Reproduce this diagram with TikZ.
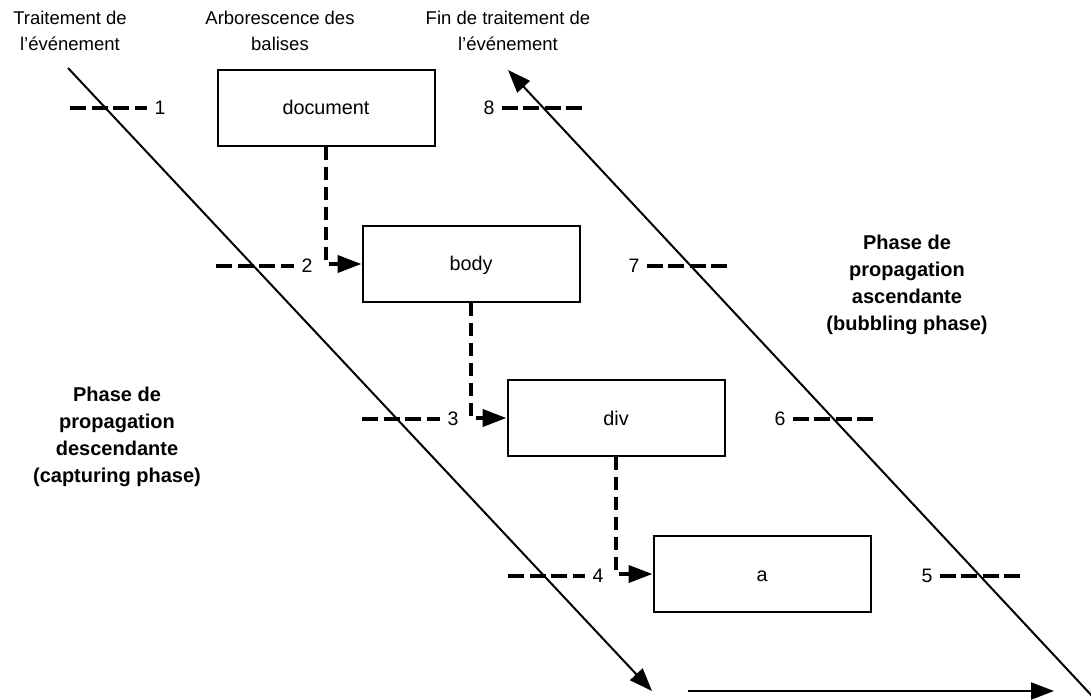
\documentclass[tikz,border=0pt]{standalone}
\usepackage{fontspec}
\setmainfont{Liberation Sans}
\usetikzlibrary{arrows.meta}
\begin{document}
\begin{tikzpicture}[x=1pt,y=-1pt,
  tag/.style={draw, line width=2pt, minimum width=217pt, minimum height=76pt,
    inner sep=0pt, text height=14pt, text depth=0pt,
    font=\fontsize{19.8}{22}\selectfont},
  lbl/.style={font=\fontsize{18.5}{26}\selectfont, align=center},
  phase/.style={font=\fontsize{20}{27}\selectfont\bfseries, align=center},
  num/.style={font=\fontsize{19.5}{22}\selectfont, inner sep=3pt},
  tick/.style={line width=4pt, dash pattern=on 16pt off 5.5pt},
  link/.style={line width=4pt, dash pattern=on 13pt off 7pt,
    -{Triangle[length=24pt,width=17pt]}},
  flow/.style={line width=2pt, -{Triangle[length=23pt,width=17pt]}}]

\useasboundingbox (0,0) rectangle (1091,700);

% column headings
\node[lbl] (hstart) at (70,31) {Traitement de\\l’événement};
\node[lbl] (htree) at (280,31) {Arborescence des\\balises};
\node[lbl] (hend) at (508,31) {Fin de traitement de\\l’événement};

% element tree
\node[tag] (doc) at (326,108) {document};
\node[tag] (body) at (471,264) {body};
\node[tag] (div) at (616,418) {div};
\node[tag] (a) at (762,574) {a};

\draw[link] (doc.south) |- (body.west);
\draw[link] (body.south) |- (div.west);
\draw[link] (div.south) |- (a.west);

% capture phase steps
\node[num] (n1) at (160,108) {1};
\node[num] (n2) at (307,266) {2};
\node[num] (n3) at (453,419) {3};
\node[num] (n4) at (598,576) {4};
\coordinate (s1) at (70,108);
\coordinate (s2) at (216,266);
\coordinate (s3) at (362,419);
\coordinate (s4) at (508,576);
\draw[tick, shorten >=4pt] (s1) -- (n1.west);
\draw[tick, shorten >=4pt] (s2) -- (n2.west);
\draw[tick, shorten >=4pt] (s3) -- (n3.west);
\draw[tick, shorten >=4pt] (s4) -- (n4.west);

% bubbling phase steps
\node[num] (n8) at (489,108) {8};
\node[num] (n7) at (634,266) {7};
\node[num] (n6) at (780,419) {6};
\node[num] (n5) at (927,576) {5};
\coordinate (e8) at (582,108);
\coordinate (e7) at (730,266);
\coordinate (e6) at (874,419);
\coordinate (e5) at (1021,576);
\draw[tick, shorten <=4pt] (n8.east) -- (e8);
\draw[tick, shorten <=4pt] (n7.east) -- (e7);
\draw[tick, shorten <=4pt] (n6.east) -- (e6);
\draw[tick, shorten <=4pt] (n5.east) -- (e5);

% propagation arrows
\coordinate (capA) at (68,68);
\coordinate (capB) at (652,691);
\coordinate (bubA) at (1093,697);
\coordinate (bubB) at (508,70);
\coordinate (tgtA) at (688,691);
\coordinate (tgtB) at (1054,691);
\draw[flow] (capA) -- (capB);
\draw[flow] (bubA) -- (bubB);
\draw[flow] (tgtA) -- (tgtB);

% phase captions
\node[phase] (pcap) at (117,437) {Phase de\\propagation\\descendante\\(capturing phase)};
\node[phase] (pbub) at (907,285) {Phase de\\propagation\\ascendante\\(bubbling phase)};
\end{tikzpicture}
\end{document}
